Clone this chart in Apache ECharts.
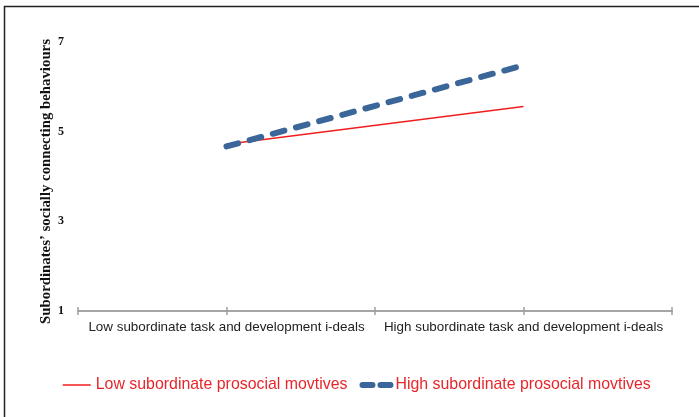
<!DOCTYPE html>
<html><head><meta charset="utf-8">
<script src="https://cdn.jsdelivr.net/npm/echarts@6/dist/echarts.min.js"></script>
<style>html,body{margin:0;padding:0;background:#fff}#c{width:699px;height:417px}</style>
</head><body><div id="c"></div>
<script>
var categories = ['Low subordinate task and development i-deals', 'High subordinate task and development i-deals'];
var categoryPositions = [1, 3];
var lowProsocial = [4.72, 5.56];
var highProsocial = [4.67, 6.48];
var seriesNames = ['Low subordinate prosocial movtives', 'High subordinate prosocial movtives'];
var yTicks = [1, 3, 5, 7];
var yName = 'Subordinates\u2019 socially connecting behaviours';

function pts(vals){ return vals.map(function(v,i){ return [categoryPositions[i], v]; }); }
var chart = echarts.init(document.getElementById('c'), null, {renderer:'canvas'});
var xBase = {
  type:'value', min:0, max:4, interval:1, position:'bottom',
  axisLine:{show:true, lineStyle:{color:'#a0a0a0', width:1.5}},
  splitLine:{show:false}
};
var blue = '#3b6699', red = '#f01e1e';
chart.setOption({
  animation:false,
  grid:{left:78, right:27, top:42, bottom:106, containLabel:false},
  graphic:[{type:'polyline', shape:{points:[[4.5,417],[4.5,6.5],[699,6.5]]}, style:{stroke:'#222', lineWidth:1.5, fill:null}}],
  legend:{
    left:57, top:372, itemWidth:28, itemHeight:10, itemGap:12,
    textStyle:{color:'#e8262a', fontFamily:'Liberation Sans', fontSize:15.9},
    itemStyle:{opacity:0},
    data:[
      {name:seriesNames[0], lineStyle:{color:red, width:1.5}},
      {name:seriesNames[1], lineStyle:{color:blue, width:6, type:[10,8], cap:'round'}}
    ]
  },
  xAxis:[
    Object.assign({}, xBase, {
      axisTick:{show:true, inside:false, length:4, lineStyle:{color:'#a0a0a0', width:1.5}},
      axisLabel:{show:true, margin:10, color:'#222', fontFamily:'Liberation Sans', fontSize:13.4,
        formatter:function(v){ var i = categoryPositions.indexOf(v); return i>=0 ? categories[i] : ''; }}
    }),
    Object.assign({}, xBase, {
      axisTick:{show:true, inside:true, length:4, lineStyle:{color:'#a0a0a0', width:1.5}},
      axisLabel:{show:false}
    })
  ],
  yAxis:{
    type:'value', min:1, max:7, interval:2,
    name:yName, nameLocation:'middle', nameGap:24, nameRotate:90, nameMoveOverlap:false,
    nameTextStyle:{fontFamily:'Liberation Serif', fontWeight:'bold', fontSize:14.8, color:'#111', padding:[0,10,0,0]},
    axisLine:{show:false}, axisTick:{show:false}, splitLine:{show:false},
    axisLabel:{margin:14, color:'#111', fontFamily:'Liberation Serif', fontWeight:'bold', fontSize:12,
      formatter:function(v){ return yTicks.indexOf(v)>=0 ? String(v) : ''; }}
  },
  series:[
    {name:seriesNames[0], type:'line', data:pts(lowProsocial), symbol:'none',
      itemStyle:{color:red}, lineStyle:{color:red, width:1.5}},
    {name:seriesNames[1], type:'line', data:pts(highProsocial), symbol:'none',
      itemStyle:{color:blue}, lineStyle:{color:blue, width:6, type:[12,12], cap:'round'}}
  ]
});
</script></body></html>
